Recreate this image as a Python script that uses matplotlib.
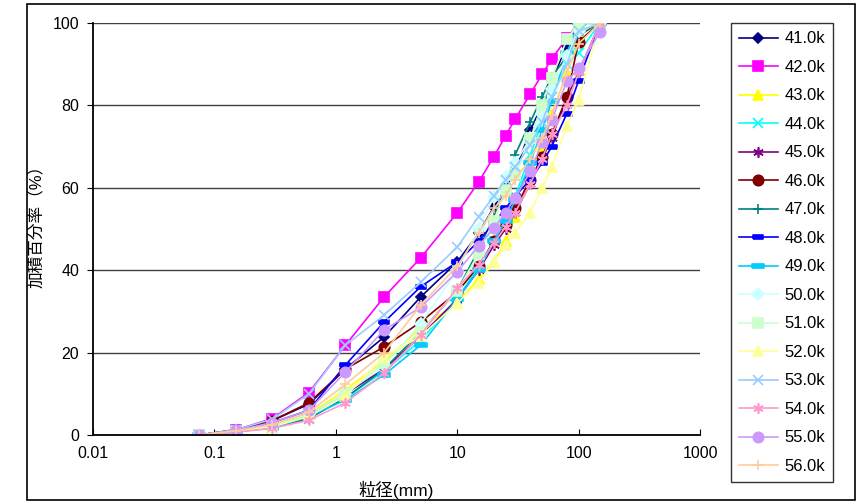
import matplotlib
matplotlib.use('Agg')
import matplotlib.pyplot as plt
from matplotlib.patches import Rectangle
from matplotlib.ticker import FixedLocator, FixedFormatter

plt.rcParams['font.family'] = ['Liberation Sans', 'Noto Sans CJK JP']
plt.rcParams['axes.unicode_minus'] = False

# ── データ ──
sieve = [0.075, 0.15, 0.3, 0.6, 1.2, 2.5, 5, 10, 15, 20, 25, 30, 40, 50, 60, 80, 100, 150]

labels = ['41.0k', '42.0k', '43.0k', '44.0k', '45.0k', '46.0k', '47.0k', '48.0k',
          '49.0k', '50.0k', '51.0k', '52.0k', '53.0k', '54.0k', '55.0k', '56.0k']

s41 = [0, 1.2, 3.5, 7.5, 16.0, 23.8, 33.5, 42.0, 49.0, 55.3, 60.0, 64.0, 74.0, 80.0, 86.0, 94.5, 100, 100]
s42 = [0, 1.2, 4.0, 10.3, 21.8, 33.5, 43.0, 53.9, 61.4, 67.5, 72.6, 76.7, 82.8, 87.5, 91.3, 96.3, 100, 100]
s43 = [0, 1.0, 2.0, 5.0, 11.0, 18.0, 26.0, 32.0, 37.9, 42.0, 47.0, 53.0, 63.0, 70.0, 78.0, 87.5, 97.0, 100]
s44 = [0, 0.8, 1.8, 4.0, 9.0, 15.5, 23.0, 33.0, 41.0, 47.0, 53.0, 58.0, 68.0, 76.0, 82.0, 90.0, 92.7, 100]
s45 = [0, 1.0, 2.2, 5.0, 10.0, 16.0, 24.0, 33.0, 40.0, 46.0, 50.0, 54.0, 61.0, 67.0, 72.0, 82.0, 88.0, 100]
s46 = [0, 1.3, 3.5, 7.8, 16.0, 21.4, 27.4, 34.7, 41.0, 47.0, 51.0, 55.0, 62.0, 67.5, 73.0, 82.0, 95.5, 100]
s47 = [0, 0.8, 1.8, 4.0, 9.0, 16.0, 25.0, 35.0, 45.0, 53.0, 60.0, 68.0, 76.0, 82.0, 87.0, 91.8, 97.0, 100]
s48 = [0, 1.1, 3.0, 6.0, 17.0, 27.4, 36.0, 42.0, 47.0, 51.5, 55.0, 58.0, 62.0, 66.0, 70.0, 78.0, 86.0, 100]
s49 = [0, 0.8, 1.7, 4.5, 8.5, 14.6, 21.8, 33.0, 40.0, 47.0, 52.0, 57.0, 66.0, 74.0, 81.0, 92.7, 100, 100]
s50 = [0, 1.0, 2.2, 5.0, 10.0, 17.0, 27.0, 40.0, 50.0, 57.8, 62.7, 66.0, 72.0, 78.0, 84.0, 92.0, 98.0, 100]
s51 = [0, 1.0, 2.2, 5.0, 10.2, 17.5, 25.0, 35.0, 44.0, 52.0, 59.5, 63.0, 72.0, 80.0, 86.6, 96.0, 100, 100]
s52 = [0, 0.9, 2.0, 4.5, 9.5, 19.0, 24.0, 32.0, 37.0, 42.0, 46.0, 49.0, 54.0, 60.0, 65.0, 75.0, 81.3, 100]
s53 = [0, 1.3, 3.8, 10.0, 21.8, 29.1, 37.1, 45.6, 53.0, 58.0, 62.0, 65.0, 70.4, 76.0, 82.0, 90.0, 98.0, 100]
s54 = [0, 0.7, 1.6, 3.6, 7.8, 15.0, 24.3, 35.7, 41.3, 46.6, 50.5, 54.0, 61.0, 67.0, 73.0, 80.0, 88.0, 100]
s55 = [0, 1.1, 3.0, 6.0, 15.3, 25.5, 31.0, 39.6, 45.9, 50.2, 54.0, 57.5, 64.0, 71.0, 76.5, 85.8, 89.0, 97.9]
s56 = [0, 1.0, 2.5, 5.5, 12.3, 20.0, 31.5, 41.0, 49.0, 55.0, 58.0, 62.0, 67.0, 72.0, 77.7, 88.0, 95.0, 100]

series = [s41, s42, s43, s44, s45, s46, s47, s48, s49, s50, s51, s52, s53, s54, s55, s56]

# ── スタイル (Excel 既定色) ──
small_rect = [(-1, -0.45), (1, -0.45), (1, 0.45), (-1, 0.45), (-1, -0.45)]
dash_rect = [(-1, -0.3), (1, -0.3), (1, 0.3), (-1, 0.3), (-1, -0.3)]
asterisk = (6, 2, 0)
styles = [
    ('#000080', 'D', 5.5),
    ('#FF00FF', 's', 7.5),
    ('#FFFF00', '^', 7.5),
    ('#00FFFF', 'x', 7.5),
    ('#800080', asterisk, 7.5),
    ('#800000', 'o', 7.5),
    ('#008080', '+', 7.5),
    ('#0000FF', small_rect, 6.5),
    ('#00CCFF', dash_rect, 8.5),
    ('#CCFFFF', 'D', 6.5),
    ('#CCFFCC', 's', 7.5),
    ('#FFFF99', '^', 7.5),
    ('#99CCFF', 'x', 7.5),
    ('#FF99CC', asterisk, 7.5),
    ('#CC99FF', 'o', 7.5),
    ('#FFCC99', '+', 7.5),
]

fig = plt.figure(figsize=(8.62, 5.03), dpi=100)
ax = fig.add_axes([0.1079, 0.1352, 0.7042, 0.8191])

for vals, lab, (col, mk, ms) in zip(series, labels, styles):
    ax.plot(sieve, vals, color=col, marker=mk, markersize=ms, linewidth=1.2,
            markerfacecolor=col, markeredgecolor=col, markeredgewidth=1.2, label=lab)

ax.set_xscale('log')
ax.set_xlim(0.01, 1000)
ax.set_ylim(0, 100)
ax.xaxis.set_major_locator(FixedLocator([0.01, 0.1, 1, 10, 100, 1000]))
ax.xaxis.set_major_formatter(FixedFormatter(['0.01', '0.1', '1', '10', '100', '1000']))
ax.xaxis.set_minor_locator(FixedLocator([]))
ax.set_yticks([0, 20, 40, 60, 80, 100])
ax.tick_params(axis='x', direction='in', length=4, pad=8, labelsize=11.5)
ax.tick_params(axis='y', direction='out', length=4, pad=6, labelsize=11.5)

ax.yaxis.grid(True, color='#404040', linewidth=1.0)
ax.set_axisbelow(True)
for side in ['top', 'right']:
    ax.spines[side].set_visible(False)
ax.spines['left'].set_linewidth(1.3)
ax.spines['bottom'].set_linewidth(1.3)

ax.set_xlabel('粒径(mm)', fontsize=12.5, labelpad=14)
ax.set_ylabel('加積百分率（%）', fontsize=12)
ax.yaxis.set_label_coords(-0.08, 0.515)

leg = fig.legend(loc='upper left', bbox_to_anchor=(0.848, 0.954), borderaxespad=0,
                 frameon=True, fancybox=False, fontsize=12, labelspacing=0.81,
                 handlelength=2.3, handletextpad=0.4, borderpad=0.5)
leg.get_frame().set_edgecolor('black')
leg.get_frame().set_linewidth(1.0)

# 外枠
fig.patches.append(Rectangle((0.0313, 0.006), 0.9606, 0.986, transform=fig.transFigure,
                             fill=False, edgecolor='black', linewidth=1.2))

fig.savefig('out.png', dpi=100, facecolor='white')
